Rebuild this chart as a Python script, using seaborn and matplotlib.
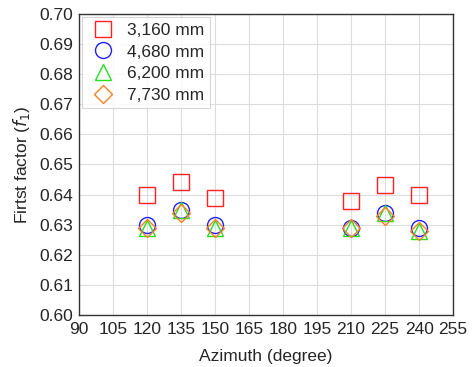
import matplotlib
matplotlib.use("Agg")
import matplotlib.pyplot as plt
import seaborn as sns
import pandas as pd

azimuth = [120, 135, 150, 210, 225, 240]
series_names = ["3,160 mm", "4,680 mm", "6,200 mm", "7,730 mm"]
f_3160 = [0.640, 0.644, 0.639, 0.638, 0.643, 0.640]
f_4680 = [0.630, 0.635, 0.630, 0.629, 0.634, 0.629]
f_6200 = [0.629, 0.635, 0.629, 0.629, 0.634, 0.628]
f_7730 = [0.629, 0.634, 0.629, 0.629, 0.633, 0.628]
x_ticks = [90, 105, 120, 135, 150, 165, 180, 195, 210, 225, 240, 255]
y_ticks = [0.60, 0.61, 0.62, 0.63, 0.64, 0.65, 0.66, 0.67, 0.68, 0.69, 0.70]

rows = []
for name, vals in zip(series_names, [f_3160, f_4680, f_6200, f_7730]):
    for a, v in zip(azimuth, vals):
        rows.append({"Azimuth": a, "f1": v, "Series": name})
df = pd.DataFrame(rows)

sns.set_style("white")
plt.rcParams["font.family"] = ["Liberation Sans", "DejaVu Sans"]

fig = plt.figure(figsize=(4.75, 3.67), dpi=100)
ax = fig.add_axes([0.166, 0.142, 0.788, 0.820])

colors = {"3,160 mm": "#ff2020", "4,680 mm": "#2020ff", "6,200 mm": "#20e020", "7,730 mm": "#ff8020"}
markers = {"3,160 mm": "s", "4,680 mm": "o", "6,200 mm": "^", "7,730 mm": "D"}
sizes = {"3,160 mm": 11, "4,680 mm": 11.5, "6,200 mm": 12, "7,730 mm": 9.5}

for name in series_names:
    sub = df[df["Series"] == name]
    sns.lineplot(data=sub, x="Azimuth", y="f1", ax=ax, linestyle="none",
                 marker=markers[name], markersize=sizes[name],
                 markerfacecolor="none", markeredgecolor=colors[name],
                 markeredgewidth=1.0, color=colors[name], label=name)

ax.set_xlim(90, 255)
ax.set_ylim(0.60, 0.70)
ax.set_xticks(x_ticks)
ax.set_yticks(y_ticks)
ax.set_yticklabels([f"{v:.2f}" for v in y_ticks])
ax.grid(True, color="#dddddd", linewidth=0.8)
for s in ax.spines.values():
    s.set_color("#333333")
    s.set_linewidth(1.0)
ax.tick_params(axis="both", labelsize=12.5, length=0)
ax.tick_params(axis="x", pad=5)
ax.tick_params(axis="y", pad=4)
ax.set_xlabel("Azimuth (degree)", fontsize=12.5, labelpad=9)
ax.set_ylabel("Firtst factor ($f_1$)", fontsize=12.5, labelpad=5)

leg = ax.legend(loc="upper left", fontsize=12.5, frameon=True, fancybox=False,
                edgecolor="#cccccc", borderaxespad=0.2, handletextpad=0.5,
                handlelength=1.8, labelspacing=0.38, borderpad=0.3)
leg.get_frame().set_linewidth(0.8)

fig.savefig("out.png", dpi=100)
